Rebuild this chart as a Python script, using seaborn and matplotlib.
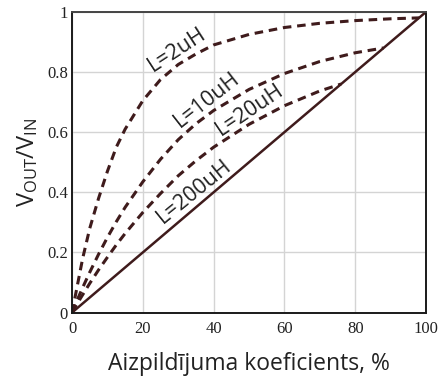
import matplotlib
matplotlib.use("Agg")
import matplotlib.pyplot as plt
import seaborn as sns
import pandas as pd

# Duty cycle (%) and output/input voltage ratio for each inductance
duty_2uh = [0, 1, 2, 3, 5, 7.5, 10, 12.5, 15, 20, 25, 30, 35, 40, 50, 60, 70, 80, 90, 98]
ratio_2uh = [0, 0.06, 0.12, 0.18, 0.28, 0.38, 0.47, 0.55, 0.61, 0.705, 0.775, 0.825, 0.86, 0.89,
             0.925, 0.948, 0.962, 0.971, 0.977, 0.98]

duty_10uh = [0, 1, 2, 3, 5, 7.5, 10, 12.5, 15, 20, 25, 30, 35, 40, 50, 60, 70, 80, 88]
ratio_10uh = [0, 0.03, 0.056, 0.083, 0.134, 0.194, 0.25, 0.302, 0.35, 0.435, 0.51, 0.575, 0.628,
              0.672, 0.742, 0.795, 0.835, 0.864, 0.88]

duty_20uh = [0, 1, 2, 3, 5, 7.5, 10, 12.5, 15, 20, 25, 30, 35, 40, 50, 60, 70, 76]
ratio_20uh = [0, 0.02, 0.04, 0.059, 0.097, 0.142, 0.184, 0.225, 0.263, 0.333, 0.396, 0.455,
              0.505, 0.55, 0.626, 0.688, 0.737, 0.76]

duty_200uh = [0, 100]
ratio_200uh = [0, 1]

curve_labels = ["L=2uH", "L=10uH", "L=20uH", "L=200uH"]
x_ticks = [0, 20, 40, 60, 80, 100]
x_tick_labels = ["0", "20", "40", "60", "80", "100"]
y_ticks = [0, 0.2, 0.4, 0.6, 0.8, 1]
y_tick_labels = ["0", "0.2", "0.4", "0.6", "0.8", "1"]

frames = []
for name, d, r in [(curve_labels[0], duty_2uh, ratio_2uh),
                   (curve_labels[1], duty_10uh, ratio_10uh),
                   (curve_labels[2], duty_20uh, ratio_20uh),
                   (curve_labels[3], duty_200uh, ratio_200uh)]:
    frames.append(pd.DataFrame({"duty": d, "ratio": r, "L": name}))
data = pd.concat(frames, ignore_index=True)

sns.set_style("whitegrid")
plt.rcParams["font.family"] = ["Open Sans", "DejaVu Sans"]

line_color = "#3f1b1c"
fig = plt.figure(figsize=(4.42, 3.83), dpi=100)
ax = fig.add_axes([0.163, 0.184, 0.801, 0.785])

dashed = data[data["L"] != "L=200uH"]
for name in curve_labels[:3]:
    sub = dashed[dashed["L"] == name]
    sns.lineplot(data=sub, x="duty", y="ratio", ax=ax, color=line_color,
                 linewidth=2.2, linestyle=(0, (2.8, 1.9)), sort=True, estimator=None)
solid = data[data["L"] == "L=200uH"]
sns.lineplot(data=solid, x="duty", y="ratio", ax=ax, color=line_color,
             linewidth=1.8, estimator=None)

ax.set_xlim(0, 100)
ax.set_ylim(0, 1)
ax.set_xticks(x_ticks)
ax.set_xticklabels(x_tick_labels)
ax.set_yticks(y_ticks)
ax.set_yticklabels(y_tick_labels)
ax.grid(True, color="#d4d4d4", linewidth=1.0)
ax.tick_params(length=0, labelsize=12, colors="#222222")
ax.tick_params(axis="x", pad=6)
ax.tick_params(axis="y", pad=3)
for lab in ax.get_xticklabels() + ax.get_yticklabels():
    lab.set_fontfamily("Liberation Serif")

for side in ["left", "bottom", "right"]:
    ax.spines[side].set_color("#1a1a1a")
    ax.spines[side].set_linewidth(1.4)
ax.spines["top"].set_color("#444444")
ax.spines["top"].set_linewidth(1.4)

ax.set_xlabel("Aizpildījuma koeficients, %", fontsize=16.5, color="#222222", labelpad=11)
ax.set_ylabel(r"$\mathregular{V_{OUT}/V_{IN}}$", fontsize=17, color="#222222", labelpad=5)

# Curve annotations along each line
annot = [(curve_labels[0], 29.7, 0.875, 33),
         (curve_labels[1], 38.1, 0.708, 38),
         (curve_labels[2], 50.3, 0.675, 34),
         (curve_labels[3], 34.4, 0.402, 39)]
for text, x, y, rot in annot:
    ax.text(x, y, text, fontsize=15.5, rotation=rot, ha="center", va="center",
            color="#222222", rotation_mode="anchor")

fig.savefig("out.png", dpi=100)
